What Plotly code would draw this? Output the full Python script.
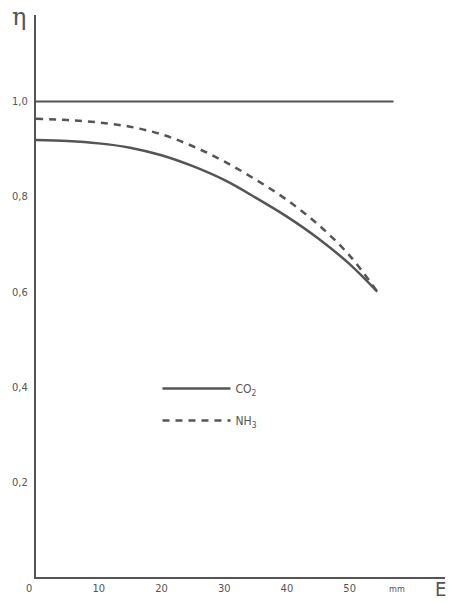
import plotly.graph_objects as go

# Data
E_mm = [0, 5, 10, 15, 20, 25, 30, 35, 40, 45, 50, 54.4]
eta_co2 = [0.919, 0.917, 0.912, 0.903, 0.887, 0.864, 0.835, 0.798, 0.758, 0.712, 0.658, 0.600]
eta_nh3 = [0.964, 0.961, 0.956, 0.947, 0.931, 0.906, 0.874, 0.836, 0.793, 0.741, 0.676, 0.600]
ref_x = [0, 57]
ref_y = [1.0, 1.0]

x_ticks = [10, 20, 30, 40, 50]
x_tick_text = ["10", "20", "30", "40", "50"]
y_ticks = [0.2, 0.4, 0.6, 0.8, 1.0]
y_tick_text = ["0,2", "0,4", "0,6", "0,8", "1,0"]

ink = "#555555"
font_family = "DejaVu Sans Condensed, DejaVu Sans, sans-serif"

fig = go.Figure()
fig.add_trace(go.Scatter(x=ref_x, y=ref_y, mode="lines",
                         line=dict(color=ink, width=2), showlegend=False,
                         hoverinfo="skip"))
fig.add_trace(go.Scatter(x=E_mm, y=eta_co2, mode="lines", name="CO<sub>2</sub>",
                         legendgroup="a",
                         line=dict(color=ink, width=2.5, shape="spline")))
fig.add_trace(go.Scatter(x=E_mm, y=eta_nh3, mode="lines", name="NH<sub>3</sub>",
                         legendgroup="b",
                         line=dict(color=ink, width=2.5, shape="spline", dash="7px,6px")))

fig.update_layout(
    width=453, height=603,
    margin=dict(l=36, r=8, t=15, b=24),
    paper_bgcolor="white", plot_bgcolor="white",
    font=dict(family=font_family, color=ink, size=11),
    xaxis=dict(range=[0, 65.2], showgrid=False, zeroline=False,
               showline=True, linecolor=ink, linewidth=2,
               tickvals=x_ticks, ticktext=x_tick_text, ticks="",
               tickfont=dict(size=11, color=ink)),
    yaxis=dict(range=[0, 1.182], showgrid=False, zeroline=False,
               showline=True, linecolor=ink, linewidth=2,
               tickvals=y_ticks, ticktext=y_tick_text, ticks="",
               ticklabelstandoff=4,
               tickfont=dict(size=11, color=ink)),
    legend=dict(x=0.297, y=0.361, xanchor="left", yanchor="top",
                bgcolor="rgba(0,0,0,0)", itemwidth=68,
                traceorder="grouped", tracegroupgap=13,
                font=dict(size=12, color=ink)),
    annotations=[
        dict(x=0, y=0, xref="x", yref="y", text="0", showarrow=False,
             xanchor="right", yanchor="top", xshift=-2, yshift=-3,
             font=dict(size=11, color=ink)),
        dict(x=57.6, y=0, xref="x", yref="y", text="mm", showarrow=False,
             xanchor="center", yanchor="top", yshift=-5,
             font=dict(size=9, color=ink)),
        dict(x=1.0, y=0, xref="paper", yref="y", text="E", showarrow=False,
             xanchor="center", yanchor="top", xshift=-5, yshift=2,
             font=dict(size=20, color=ink)),
        dict(x=0, y=1.0, xref="paper", yref="paper", text="η", showarrow=False,
             xanchor="center", yanchor="middle", xshift=-17, yshift=-2,
             font=dict(size=24, color=ink, family="DejaVu Serif, serif")),
    ],
)

fig.write_html("out.html")
